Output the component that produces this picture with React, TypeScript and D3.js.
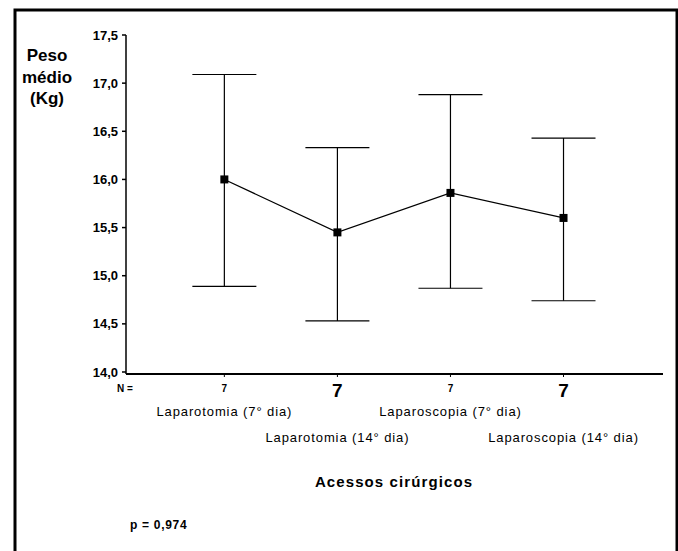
import React, { useEffect, useRef } from "react";
import * as d3 from "d3";

const groups = [
  "Laparotomia (7° dia)",
  "Laparotomia (14° dia)",
  "Laparoscopia (7° dia)",
  "Laparoscopia (14° dia)",
];
const means = [16.0, 15.45, 15.86, 15.6];
const upper = [17.09, 16.33, 16.88, 16.43];
const lower = [14.89, 14.53, 14.87, 14.74];
const nValues = ["7", "7", "7", "7"];
const yTicks = [14.0, 14.5, 15.0, 15.5, 16.0, 16.5, 17.0, 17.5];

export default function App() {
  const ref = useRef<SVGSVGElement>(null);

  useEffect(() => {
    const svg = d3.select(ref.current);
    svg.selectAll("*").remove();

    const left = 126, right = 663, top = 35, bottom = 372, axisY = 374;
    const font = "Arial, 'Liberation Sans', sans-serif";

    const x = d3.scaleLinear().domain([-0.87, 3.88]).range([left, right]);
    const y = d3.scaleLinear().domain([14, 17.5]).range([bottom, top]);
    const idx = d3.range(groups.length);

    // frame round the whole figure
    svg.append("rect")
      .attr("x", 15).attr("y", 10).attr("width", 662).attr("height", 600)
      .attr("fill", "none").attr("stroke", "#000").attr("stroke-width", 3);

    // y axis
    svg.append("line").attr("x1", left).attr("x2", left).attr("y1", top).attr("y2", axisY)
      .attr("stroke", "#000").attr("stroke-width", 1.5);
    const yt = svg.append("g").selectAll("g").data(yTicks).join("g")
      .attr("transform", d => `translate(0,${y(d)})`);
    yt.append("line").attr("x1", left - 4).attr("x2", left).attr("stroke", "#000").attr("stroke-width", 1.5);
    yt.append("text").attr("x", left - 8).attr("dy", "0.35em").attr("text-anchor", "end")
      .attr("font-family", font).attr("font-size", 13).attr("font-weight", "bold")
      .text(d => d3.format(".1f")(d).replace(".", ","));

    // x axis
    svg.append("line").attr("x1", left).attr("x2", right).attr("y1", axisY).attr("y2", axisY)
      .attr("stroke", "#000").attr("stroke-width", 2);
    svg.append("g").selectAll("line").data(idx).join("line")
      .attr("x1", i => x(i)).attr("x2", i => x(i)).attr("y1", axisY).attr("y2", axisY + 3)
      .attr("stroke", "#000");

    // y label
    svg.append("text").attr("text-anchor", "middle")
      .attr("font-family", font).attr("font-size", 17).attr("font-weight", "bold")
      .selectAll("tspan").data(["Peso", "médio", "(Kg)"]).join("tspan")
      .attr("x", 47).attr("y", (d, i) => 61 + i * 21.5).text(d => d);

    // N row
    svg.append("text").attr("x", 117).attr("y", 392)
      .attr("font-family", font).attr("font-size", 10).attr("font-weight", "bold").text("N =");
    svg.append("g").selectAll("text").data(idx).join("text")
      .attr("x", i => x(i)).attr("y", i => (i % 2 ? 397 : 392)).attr("text-anchor", "middle")
      .attr("font-family", font).attr("font-size", i => (i % 2 ? 19 : 10)).attr("font-weight", "bold")
      .text(i => nValues[i]);

    // category labels, staggered
    svg.append("g").selectAll("text").data(idx).join("text")
      .attr("x", i => x(i)).attr("y", i => (i % 2 ? 442 : 416)).attr("text-anchor", "middle")
      .attr("font-family", font).attr("font-size", 13).attr("letter-spacing", 0.9)
      .text(i => groups[i]);

    svg.append("text").attr("x", 394).attr("y", 487).attr("text-anchor", "middle")
      .attr("font-family", font).attr("font-size", 15).attr("font-weight", "bold")
      .attr("letter-spacing", 1.1).text("Acessos cirúrgicos");

    svg.append("text").attr("x", 130).attr("y", 529)
      .attr("font-family", font).attr("font-size", 12).attr("font-weight", "bold")
      .attr("letter-spacing", 0.7).text("p = 0,974");

    // error bars
    const eb = svg.append("g").attr("stroke", "#000").attr("stroke-width", 1.2);
    eb.selectAll(".v").data(idx).join("line").attr("class", "v")
      .attr("x1", i => x(i)).attr("x2", i => x(i)).attr("y1", i => y(upper[i])).attr("y2", i => y(lower[i]));
    eb.selectAll(".u").data(idx).join("line").attr("class", "u")
      .attr("x1", i => x(i) - 32).attr("x2", i => x(i) + 32).attr("y1", i => y(upper[i])).attr("y2", i => y(upper[i]));
    eb.selectAll(".l").data(idx).join("line").attr("class", "l")
      .attr("x1", i => x(i) - 32).attr("x2", i => x(i) + 32).attr("y1", i => y(lower[i])).attr("y2", i => y(lower[i]));

    // mean line and markers
    const line = d3.line<number>().x(i => x(i)).y(i => y(means[i]));
    svg.append("path").datum(idx).attr("d", line).attr("fill", "none").attr("stroke", "#000").attr("stroke-width", 1.2);
    svg.append("g").selectAll("rect").data(idx).join("rect")
      .attr("x", i => x(i) - 4).attr("y", i => y(means[i]) - 4).attr("width", 8).attr("height", 8)
      .attr("fill", "#000");
  }, []);

  return (
    <svg ref={ref} width={678} height={551}
      style={{ position: "absolute", left: 0, top: 0, background: "#fff" }} />
  );
}
